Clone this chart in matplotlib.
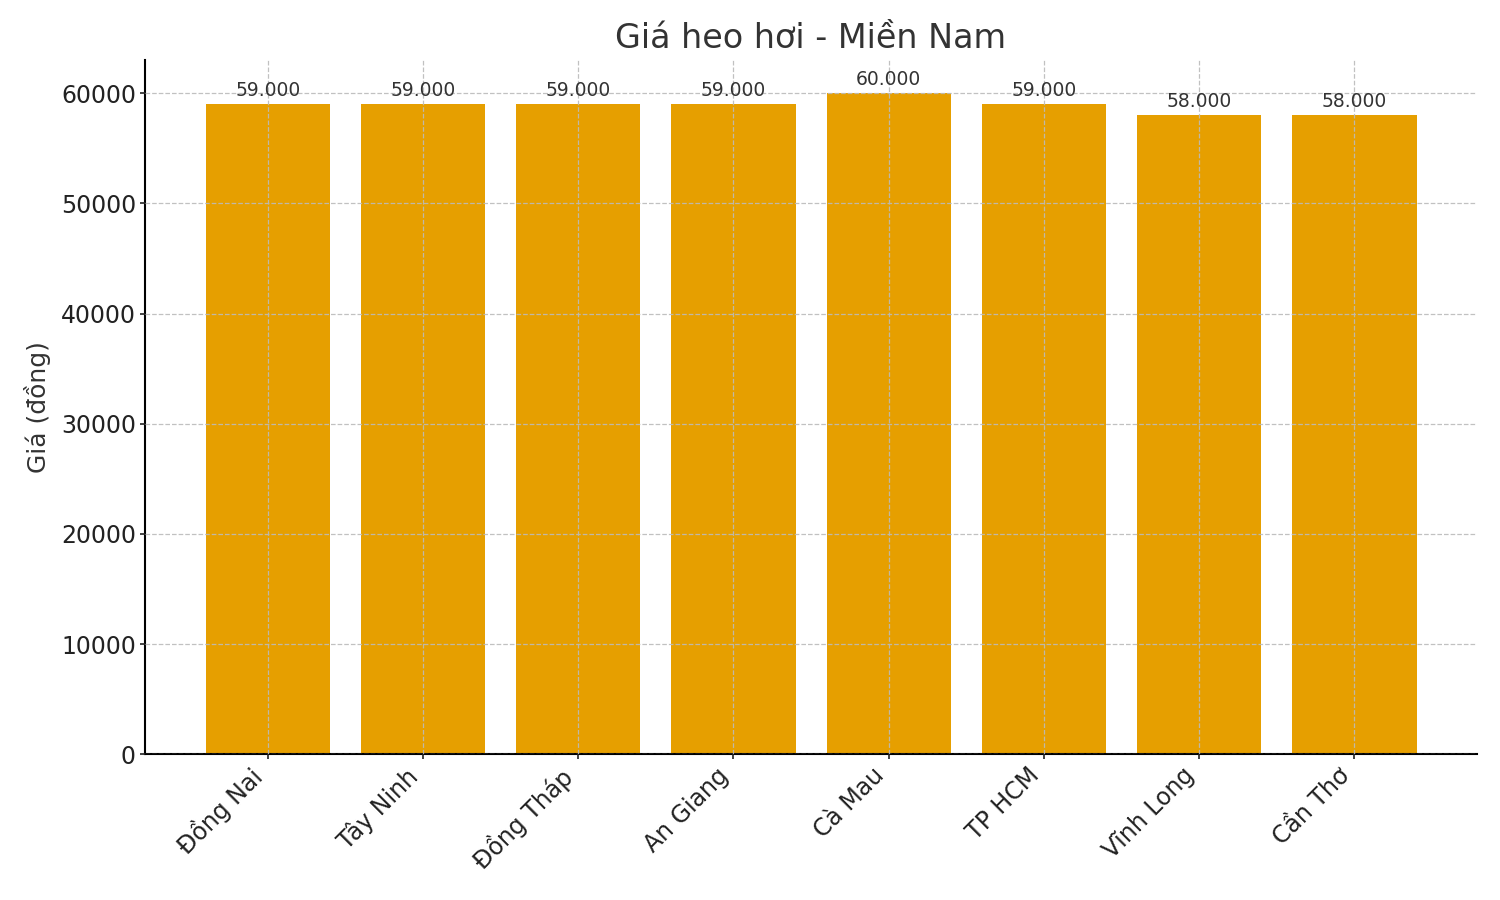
import matplotlib
matplotlib.use("Agg")
import matplotlib.pyplot as plt

regions = ["Đồng Nai", "Tây Ninh", "Đồng Tháp", "An Giang", "Cà Mau", "TP HCM", "Vĩnh Long", "Cần Thơ"]
prices = [59000, 59000, 59000, 59000, 60000, 59000, 58000, 58000]
value_labels = ["59.000", "59.000", "59.000", "59.000", "60.000", "59.000", "58.000", "58.000"]

plt.rcParams['font.family'] = ['DejaVu Sans']
fig = plt.figure(figsize=(15, 9), dpi=100)
ax = fig.add_axes([0.0967, 0.162, 0.888, 0.771])

bars = ax.bar(regions, prices, width=0.8, color="#E69F00", zorder=1)
ax.set_axisbelow(False)
ax.grid(True, linestyle="--", color="#bbbbbb", linewidth=0.9, alpha=0.9)

for b, lab in zip(bars, value_labels):
    ax.annotate(lab, (b.get_x() + b.get_width() / 2, b.get_height()),
                xytext=(0, 3), textcoords="offset points", ha="center", va="bottom",
                fontsize=13.5, color="#333333")

ax.set_title("Giá heo hơi - Miền Nam", fontsize=24, color="#333333", pad=9)
ax.set_ylabel("Giá (đồng)", fontsize=18, color="#333333", labelpad=7)
ax.tick_params(axis="both", labelsize=17, colors="#222222", length=3.6, width=1.2, pad=3)
plt.setp(ax.get_xticklabels(), rotation=45, ha="right")

ax.spines["top"].set_visible(False)
ax.spines["right"].set_visible(False)
ax.spines["left"].set_linewidth(1.5)
ax.spines["bottom"].set_linewidth(1.5)
ax.set_ylim(0, 63000)

fig.savefig("out.png", dpi=100)
